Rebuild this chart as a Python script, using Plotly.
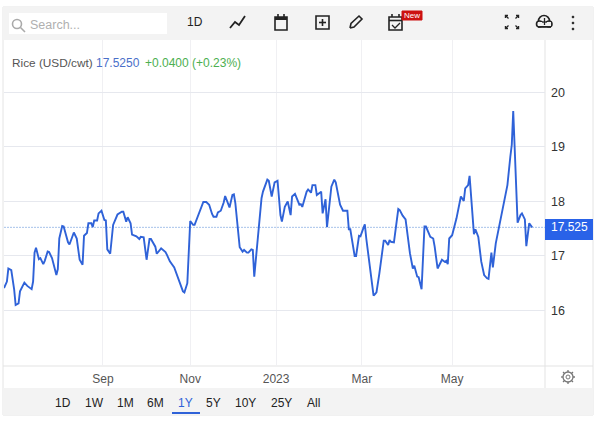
import plotly.graph_objects as go

# ---------- data ----------
dates = """2022-06-25 2022-06-27 2022-06-28 2022-06-30 2022-07-02 2022-07-03 2022-07-05 2022-07-06 2022-07-09 2022-07-11
2022-07-14 2022-07-15 2022-07-16 2022-07-17 2022-07-19 2022-07-20 2022-07-22 2022-07-23 2022-07-25 2022-07-26
2022-07-28 2022-07-31 2022-08-01 2022-08-02 2022-08-04 2022-08-05 2022-08-08 2022-08-09 2022-08-12 2022-08-14
2022-08-16 2022-08-18 2022-08-19 2022-08-21 2022-08-22 2022-08-24 2022-08-25 2022-08-26 2022-08-28 2022-08-29
2022-08-31 2022-09-02 2022-09-03 2022-09-04 2022-09-06 2022-09-07 2022-09-08 2022-09-11 2022-09-14 2022-09-15
2022-09-17 2022-09-18 2022-09-20 2022-09-21 2022-09-24 2022-09-26 2022-09-27 2022-09-29 2022-10-01 2022-10-03
2022-10-04 2022-10-07 2022-10-08 2022-10-11 2022-10-14 2022-10-15 2022-10-17 2022-10-20 2022-10-23 2022-10-24
2022-10-26 2022-10-27 2022-10-29 2022-10-31 2022-11-02 2022-11-03 2022-11-07 2022-11-09 2022-11-11 2022-11-13
2022-11-15 2022-11-16 2022-11-18 2022-11-19 2022-11-21 2022-11-23 2022-11-24 2022-11-26 2022-11-27 2022-11-29
2022-11-30 2022-12-01 2022-12-03 2022-12-04 2022-12-06 2022-12-07 2022-12-09 2022-12-10 2022-12-12 2022-12-13
2022-12-14 2022-12-19 2022-12-20 2022-12-23 2022-12-24 2022-12-26 2022-12-28 2022-12-30 2023-01-01 2023-01-02
2023-01-04 2023-01-06 2023-01-08 2023-01-09 2023-01-11 2023-01-12 2023-01-14 2023-01-15 2023-01-16 2023-01-19
2023-01-20 2023-01-22 2023-01-23 2023-01-25 2023-01-26 2023-01-29 2023-01-30 2023-02-01 2023-02-02 2023-02-05
2023-02-07 2023-02-08 2023-02-11 2023-02-13 2023-02-16 2023-02-17 2023-02-18 2023-02-21 2023-02-22 2023-02-24
2023-02-25 2023-02-27 2023-02-28 2023-03-01 2023-03-06 2023-03-07 2023-03-08 2023-03-10 2023-03-12 2023-03-13
2023-03-14 2023-03-16 2023-03-17 2023-03-18 2023-03-20 2023-03-23 2023-03-24 2023-03-26 2023-03-28 2023-03-29
2023-03-31 2023-04-02 2023-04-03 2023-04-05 2023-04-06 2023-04-08 2023-04-10 2023-04-11 2023-04-14 2023-04-16
2023-04-17 2023-04-19 2023-04-21 2023-04-22 2023-04-24 2023-04-25 2023-04-26 2023-04-27 2023-04-29 2023-05-01
2023-05-02 2023-05-05 2023-05-07 2023-05-08 2023-05-10 2023-05-11 2023-05-14 2023-05-15 2023-05-17 2023-05-19
2023-05-21 2023-05-23 2023-05-24 2023-05-26 2023-05-27 2023-05-29 2023-06-02 2023-06-06 2023-06-08 2023-06-09
2023-06-10 2023-06-13 2023-06-15 2023-06-16 2023-06-18 2023-06-19 2023-06-21 2023-06-23""".split()

prices = [16.41, 16.53, 16.77, 16.74, 16.38, 16.10, 16.13, 16.35, 16.51, 16.45,
          16.39, 16.53, 17.06, 17.15, 16.94, 16.96, 16.85, 16.91, 17.08, 17.07,
          16.96, 16.65, 16.76, 17.32, 17.55, 17.54, 17.25, 17.21, 17.43, 17.32,
          16.93, 16.84, 17.37, 17.42, 17.60, 17.60, 17.53, 17.65, 17.65, 17.78,
          17.83, 17.66, 17.65, 17.12, 17.04, 17.26, 17.57, 17.76, 17.81, 17.81,
          17.63, 17.71, 17.60, 17.39, 17.36, 17.31, 17.35, 17.34, 16.93, 17.31,
          17.31, 17.17, 17.04, 17.14, 17.07, 17.02, 16.90, 16.79, 16.56, 16.50,
          16.35, 16.33, 16.50, 17.64, 17.57, 17.57, 17.86, 17.99, 17.99, 17.94,
          17.77, 17.72, 17.72, 17.80, 17.83, 17.98, 18.10, 17.94, 17.89, 18.12,
          18.13, 17.97, 17.32, 17.16, 17.08, 17.11, 17.06, 17.06, 17.12, 17.11,
          16.62, 18.06, 18.18, 18.40, 18.38, 18.09, 18.35, 18.38, 17.75, 17.63,
          17.90, 18.00, 17.75, 18.09, 18.14, 18.06, 17.94, 17.95, 17.90, 18.18,
          18.22, 18.16, 18.30, 18.30, 18.12, 18.18, 17.78, 18.04, 17.53, 18.27,
          18.40, 18.35, 17.94, 17.83, 17.83, 17.49, 17.49, 17.00, 17.00, 17.37,
          17.36, 17.51, 17.58, 17.32, 16.27, 16.30, 16.33, 16.68, 17.15, 17.28,
          17.28, 17.20, 17.29, 17.26, 17.25, 17.86, 17.84, 17.74, 17.67, 17.45,
          17.05, 16.77, 16.82, 16.62, 16.61, 16.39, 17.54, 17.54, 17.35, 17.32,
          17.17, 16.77, 16.90, 16.93, 16.89, 16.91, 16.85, 17.32, 17.38, 17.59,
          17.69, 18.09, 18.01, 18.24, 18.30, 18.47, 17.40, 17.49, 17.35, 16.90,
          16.65, 16.59, 16.58, 17.06, 16.79, 17.23, 17.78, 18.30, 18.82, 19.04,
          19.66, 17.61, 17.75, 17.78, 17.67, 17.18, 17.60, 17.525]

last_price = 17.525
y_ticks = [16, 17, 18, 19, 20]
x_tick_dates = ["2022-09-01", "2022-10-31", "2022-12-29", "2023-02-26", "2023-04-29"]
x_tick_text = ["Sep", "Nov", "2023", "Mar", "May"]
range_buttons = ["1D", "1W", "1M", "6M", "1Y", "5Y", "10Y", "25Y", "All"]
range_button_x = [63, 94, 125, 155, 185, 214, 245, 281, 313]

# ---------- page geometry (pixels) ----------
L, R, T, B = 4, 545, 40, 366
def px(x): return (x - L) / (R - L)
def py(y): return (B - y) / (B - T)
FONT = "Liberation Sans, Arial, sans-serif"
BLUE = "#2f62d8"
ICON = "#222222"

shapes, annos = [], []

def rect(x0, y0, x1, y1, fill=None, line=None, w=1, layer="below"):
    shapes.append(dict(type="rect", xref="paper", yref="paper", x0=px(x0), x1=px(x1), y0=py(y0), y1=py(y1),
                       fillcolor=fill or "rgba(0,0,0,0)", line=dict(color=line or "rgba(0,0,0,0)", width=w if line else 0), layer=layer))
def seg(pts, color=ICON, w=1.6, layer="above"):
    d = "M" + " L".join(f"{px(a):.5f},{py(b):.5f}" for a, b in pts)
    shapes.append(dict(type="path", xref="paper", yref="paper", path=d, line=dict(color=color, width=w), layer=layer))
def circ(cx, cy, r, fill=None, line=ICON, w=1.6):
    shapes.append(dict(type="circle", xref="paper", yref="paper", x0=px(cx - r), x1=px(cx + r), y0=py(cy + r), y1=py(cy - r),
                       fillcolor=fill or "rgba(0,0,0,0)", line=dict(color=line, width=w), layer="above"))
def text(x, y, s, color="#555555", size=12, anchor="left"):
    annos.append(dict(xref="paper", yref="paper", x=px(x), y=py(y), text=s, showarrow=False,
                      xanchor=anchor, yanchor="middle", font=dict(family=FONT, size=size, color=color),
                      borderpad=0, borderwidth=0))

# frame and bands
rect(3, 7, 593, 415, fill="#ffffff", line="#e4e4e4")
rect(3, 7, 593, 40, fill="#f3f3f3")
rect(3, 388, 593, 415, fill="#f3f3f3")
rect(9, 13, 167, 34, fill="#ffffff")

# axis frame
seg([(R, 40), (R, 388)], color="#e3e3e3", w=1, layer="below")
seg([(3, B), (593, B)], color="#e3e3e3", w=1, layer="below")

# search
circ(17, 24, 4.5, line="#aaaaaa")
seg([(20.5, 27.5), (25, 32)], color="#aaaaaa")
text(30, 25, "Search...", color="#b0b0b0", size=12.5)

# toolbar
text(195, 22, "1D", color="#222222", size=12, anchor="center")
seg([(230, 28), (235, 22), (239, 25), (245, 16)], w=1.8)
# calendar
rect(275, 17, 287, 30, line=ICON, w=1.6, layer="above")
rect(275, 17, 287, 20, fill=ICON, layer="above")
seg([(278, 14), (278, 17)]); seg([(284, 14), (284, 17)])
# plus box
rect(316, 16, 329, 29, line=ICON, w=1.6, layer="above")
seg([(322.5, 19), (322.5, 26)]); seg([(319, 22.5), (326, 22.5)])
# pencil
seg([(350, 28), (351, 23.5), (359, 16), (362, 19), (354, 27), (350, 28)], w=1.6)
# calendar check
rect(389, 17, 402, 30, line=ICON, w=1.6, layer="above")
seg([(389, 20.5), (402, 20.5)])
seg([(392, 14), (392, 17)]); seg([(399, 14), (399, 17)])
seg([(392, 25), (395, 28), (400, 23)], w=1.3)
# New badge
rect(402, 11, 422, 20, fill="#cc1111", line="#cc1111", w=1, layer="above")
text(412, 15.5, "New", color="#ffffff", size=8, anchor="center")
# expand
for sx, sy in [(-1, -1), (1, -1), (-1, 1), (1, 1)]:
    cx, cy = 512 + sx * 6.5, 22 + sy * 6.5
    seg([(cx - sx * 2.5, cy), (cx, cy), (cx, cy - sy * 2.5)], w=1.4)
    seg([(cx, cy), (cx - sx * 3, cy - sy * 3)], w=1.2)
# cloud
circ(544, 21, 5.5, fill="#f3f3f3", w=1.6)
circ(539.5, 24, 3, fill="#f3f3f3", w=1.6)
circ(549, 24, 3, fill="#f3f3f3", w=1.6)
rect(538, 22, 551, 26, fill="#f3f3f3", layer="above")
seg([(538, 27), (551, 27)])
seg([(544.5, 18), (544.5, 25)], w=1.3); seg([(542, 22), (547, 22)], w=1.3)
# dots
for y in (17, 23, 29):
    circ(573, y, 0.9, fill=ICON, w=1)
# gear
circ(568, 377, 5, line="#777777", w=1.3)
circ(568, 377, 2, line="#777777", w=1)
for a, b in [((568, 370), (568, 372)), ((568, 382), (568, 384)), ((561, 377), (563, 377)), ((573, 377), (575, 377)),
             ((563, 372), (564.5, 373.5)), ((571.5, 380.5), (573, 382)), ((563, 382), (564.5, 380.5)), ((571.5, 373.5), (573, 372))]:
    seg([a, b], color="#777777", w=1.3)

# legend line
text(12, 62.5, "Rice (USD/cwt)", color="#555555", size=11.8)
text(96, 62.5, "17.5250", color="#4a6fc9", size=12)
text(145, 62.5, "+0.0400 (+0.23%)", color="#4caf50", size=12)

# range buttons
for label, x in zip(range_buttons, range_button_x):
    text(x, 403, label, color="#2f62d8" if label == "1Y" else "#222222", size=12, anchor="center")
seg([(172, 413), (200, 413)], color=BLUE, w=2)

# price tag and price line
shapes.append(dict(type="line", xref="paper", yref="y", x0=0, x1=1, y0=last_price, y1=last_price,
                   line=dict(color="#a6c2ea", width=1, dash="2px,1px"), layer="below"))
rect(545, 219, 593, 240, fill="#2962e8", layer="above")
annos.append(dict(xref="paper", yref="y", x=px(569), y=last_price, text=f"{last_price:.3f}", showarrow=False,
                  xanchor="center", yanchor="middle", font=dict(family=FONT, size=12, color="#ffffff")))

fig = go.Figure(go.Scatter(x=dates, y=prices, mode="lines", line=dict(color=BLUE, width=1.9, shape="linear"),
                           hoverinfo="skip", showlegend=False, cliponaxis=True))

fig.update_layout(
    width=600, height=421, autosize=False,
    margin=dict(l=L, r=600 - R, t=T, b=421 - B, pad=0),
    paper_bgcolor="#ffffff", plot_bgcolor="rgba(0,0,0,0)",
    font=dict(family=FONT, size=12, color="#333333"),
    shapes=shapes, annotations=annos,
    xaxis=dict(type="date", range=["2022-06-25", "2023-07-01 20:00"], tickmode="array",
               tickvals=x_tick_dates, ticktext=x_tick_text, showgrid=True, gridcolor="#f0f0f3", gridwidth=1,
               ticks="", showline=False, zeroline=False, tickfont=dict(size=12, color="#555555"),
               ticklabelstandoff=4),
    yaxis=dict(side="right", range=[14.98, 20.963], tickmode="array", tickvals=y_ticks,
               ticktext=[str(v) for v in y_ticks], showgrid=True, gridcolor="#e6e8ee", gridwidth=1,
               ticks="", showline=False, zeroline=False, tickfont=dict(size=12.5, color="#333333"),
               ticklabelstandoff=5),
)
fig.write_html("out.html", config=dict(displayModeBar=False),
               post_script="document.body.style.margin='0';document.body.style.overflow='hidden';")
